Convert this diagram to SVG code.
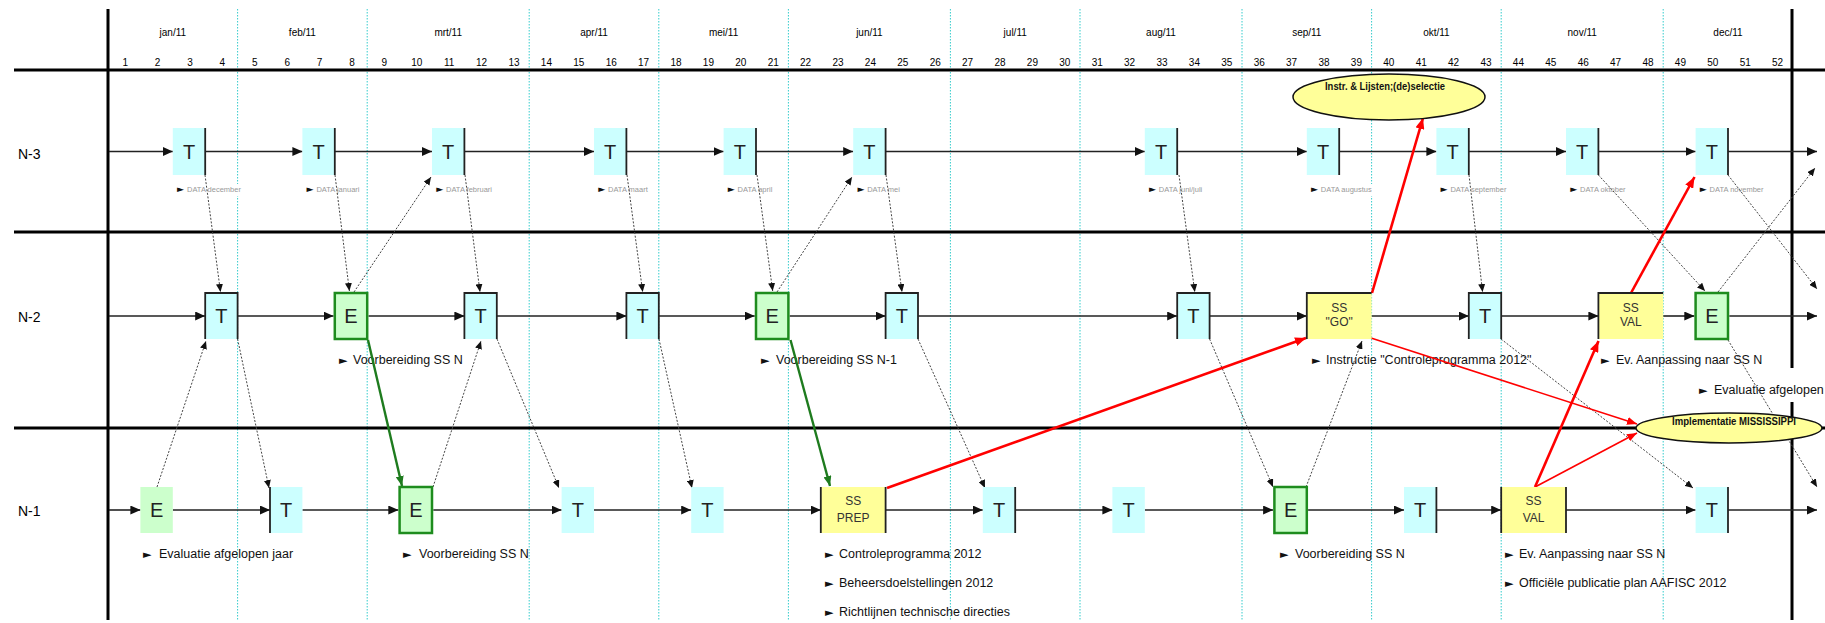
<svg xmlns="http://www.w3.org/2000/svg" width="1825" height="623" viewBox="0 0 1825 623">
<defs>
<style>
.bg{fill:#fff}
.grid{stroke:#000;stroke-width:3;fill:none}
.month{stroke:#33CCCC;stroke-width:1;stroke-dasharray:1.5 1.5;fill:none}
.hdr{font-family:"Liberation Sans",Arial,sans-serif;font-size:10px;fill:#000;text-anchor:middle}
.rowl{font-family:"Liberation Sans",Arial,sans-serif;font-size:14px;fill:#000}
.flow{stroke:#222;stroke-width:1.6;fill:none;marker-end:url(#ah)}
.dep{stroke:#444;stroke-width:1;stroke-dasharray:2 1.6;fill:none;marker-end:url(#ahs)}
.red{stroke:#FF0000;stroke-width:2.6;fill:none;marker-end:url(#ahr)}
.redt{stroke:#FF0000;stroke-width:1.6;fill:none;marker-end:url(#ahr2)}
.grn{stroke:#1E7B1E;stroke-width:2.4;fill:none;marker-end:url(#ahg)}
.t{fill:#CCFFFF}
.e{fill:#CCFFCC}
.eb{fill:#CCFFCC;stroke:#1E8C1E;stroke-width:2.5}
.ss{fill:#FFFF99}
.bd{stroke:#222;stroke-width:1.8;fill:none}
.lt{font-family:"Liberation Sans",Arial,sans-serif;font-size:20px;fill:#222;text-anchor:middle}
.sst{font-family:"Liberation Sans",Arial,sans-serif;font-size:12px;fill:#333;text-anchor:middle}
.lab{font-family:"Liberation Sans",Arial,sans-serif;font-size:12.5px;fill:#111}
.bul{font-family:"DejaVu Sans",sans-serif;font-size:11px;fill:#111}
.data{font-family:"Liberation Sans",Arial,sans-serif;font-size:7.5px;fill:#999}
.dbul{font-family:"DejaVu Sans",sans-serif;font-size:9px;fill:#111}
.ell{fill:#FFFF99;stroke:#111;stroke-width:1.5}
.elt{font-family:"Liberation Sans",Arial,sans-serif;font-size:10px;font-weight:bold;fill:#111;text-anchor:middle}
</style>
<marker id="ah" markerUnits="userSpaceOnUse" markerWidth="10" markerHeight="9" refX="10" refY="4.5" orient="auto"><path d="M0,0 L10,4.5 L0,9 z" fill="#111"/></marker>
<marker id="ahs" markerUnits="userSpaceOnUse" markerWidth="8" markerHeight="7" refX="8" refY="3.5" orient="auto"><path d="M0,0 L8,3.5 L0,7 z" fill="#111"/></marker>
<marker id="ahr" markerUnits="userSpaceOnUse" markerWidth="11" markerHeight="9" refX="11" refY="4.5" orient="auto"><path d="M0,0 L11,4.5 L0,9 z" fill="#FF0000"/></marker>
<marker id="ahr2" markerUnits="userSpaceOnUse" markerWidth="10" markerHeight="8" refX="10" refY="4" orient="auto"><path d="M0,0 L10,4 L0,8 z" fill="#FF0000"/></marker>
<marker id="ahg" markerUnits="userSpaceOnUse" markerWidth="10" markerHeight="8" refX="10" refY="4" orient="auto"><path d="M0,0 L10,4 L0,8 z" fill="#1E7B1E"/></marker>
</defs>
<rect class="bg" x="0" y="0" width="1825" height="623"/>

<g id="month-lines">
<path class="month" d="M237.6,9V620M367.2,9V620M529.2,9V620M658.8,9V620M788.4,9V620M950.4,9V620M1080,9V620M1242,9V620M1371.6,9V620M1501.2,9V620M1663.2,9V620"/>
</g>

<g id="grid">
<path class="grid" d="M14,70H1825M14,232H1825M14,428H1825M108,9V620M1792,9V620"/>
</g>

<g id="header">
<text class="hdr" x="172.8" y="36">jan/11</text>
<text class="hdr" x="302.4" y="36">feb/11</text>
<text class="hdr" x="448.2" y="36">mrt/11</text>
<text class="hdr" x="594" y="36">apr/11</text>
<text class="hdr" x="723.6" y="36">mei/11</text>
<text class="hdr" x="869.4" y="36">jun/11</text>
<text class="hdr" x="1015.2" y="36">jul/11</text>
<text class="hdr" x="1161" y="36">aug/11</text>
<text class="hdr" x="1306.8" y="36">sep/11</text>
<text class="hdr" x="1436.4" y="36">okt/11</text>
<text class="hdr" x="1582.2" y="36">nov/11</text>
<text class="hdr" x="1728" y="36">dec/11</text>
<g class="weeks">
<text class="hdr" x="125.2" y="66">1</text><text class="hdr" x="157.6" y="66">2</text><text class="hdr" x="190" y="66">3</text><text class="hdr" x="222.4" y="66">4</text>
<text class="hdr" x="254.8" y="66">5</text><text class="hdr" x="287.2" y="66">6</text><text class="hdr" x="319.6" y="66">7</text><text class="hdr" x="352" y="66">8</text>
<text class="hdr" x="384.4" y="66">9</text><text class="hdr" x="416.8" y="66">10</text><text class="hdr" x="449.2" y="66">11</text><text class="hdr" x="481.6" y="66">12</text>
<text class="hdr" x="514" y="66">13</text><text class="hdr" x="546.4" y="66">14</text><text class="hdr" x="578.8" y="66">15</text><text class="hdr" x="611.2" y="66">16</text>
<text class="hdr" x="643.6" y="66">17</text><text class="hdr" x="676" y="66">18</text><text class="hdr" x="708.4" y="66">19</text><text class="hdr" x="740.8" y="66">20</text>
<text class="hdr" x="773.2" y="66">21</text><text class="hdr" x="805.6" y="66">22</text><text class="hdr" x="838" y="66">23</text><text class="hdr" x="870.4" y="66">24</text>
<text class="hdr" x="902.8" y="66">25</text><text class="hdr" x="935.2" y="66">26</text><text class="hdr" x="967.6" y="66">27</text><text class="hdr" x="1000" y="66">28</text>
<text class="hdr" x="1032.4" y="66">29</text><text class="hdr" x="1064.8" y="66">30</text><text class="hdr" x="1097.2" y="66">31</text><text class="hdr" x="1129.6" y="66">32</text>
<text class="hdr" x="1162" y="66">33</text><text class="hdr" x="1194.4" y="66">34</text><text class="hdr" x="1226.8" y="66">35</text><text class="hdr" x="1259.2" y="66">36</text>
<text class="hdr" x="1291.6" y="66">37</text><text class="hdr" x="1324" y="66">38</text><text class="hdr" x="1356.4" y="66">39</text><text class="hdr" x="1388.8" y="66">40</text>
<text class="hdr" x="1421.2" y="66">41</text><text class="hdr" x="1453.6" y="66">42</text><text class="hdr" x="1486" y="66">43</text><text class="hdr" x="1518.4" y="66">44</text>
<text class="hdr" x="1550.8" y="66">45</text><text class="hdr" x="1583.2" y="66">46</text><text class="hdr" x="1615.6" y="66">47</text><text class="hdr" x="1648" y="66">48</text>
<text class="hdr" x="1680.4" y="66">49</text><text class="hdr" x="1712.8" y="66">50</text><text class="hdr" x="1745.2" y="66">51</text><text class="hdr" x="1777.6" y="66">52</text>
</g>
<text class="rowl" x="18" y="159">N-3</text>
<text class="rowl" x="18" y="322">N-2</text>
<text class="rowl" x="18" y="516">N-1</text>
</g>

<g id="data-labels">
<rect class="bg" x="176" y="184" width="68" height="12"/>
<rect class="bg" x="1310" y="184" width="66" height="12"/>
<rect class="bg" x="1440" y="184" width="70" height="12"/>
<text y="192"><tspan class="dbul" x="177">►</tspan><tspan class="data" x="187">DATA december</tspan></text>
<text y="192"><tspan class="dbul" x="306.6">►</tspan><tspan class="data" x="316.4">DATA januari</tspan></text>
<text y="192"><tspan class="dbul" x="436.2">►</tspan><tspan class="data" x="446">DATA februari</tspan></text>
<text y="192"><tspan class="dbul" x="598.2">►</tspan><tspan class="data" x="608">DATA maart</tspan></text>
<text y="192"><tspan class="dbul" x="727.8">►</tspan><tspan class="data" x="737.6">DATA april</tspan></text>
<text y="192"><tspan class="dbul" x="857.4">►</tspan><tspan class="data" x="867.2">DATA mei</tspan></text>
<text y="192"><tspan class="dbul" x="1149">►</tspan><tspan class="data" x="1158.8">DATA juni/juli</tspan></text>
<text y="192"><tspan class="dbul" x="1311">►</tspan><tspan class="data" x="1320.8">DATA augustus</tspan></text>
<text y="192"><tspan class="dbul" x="1440.6">►</tspan><tspan class="data" x="1450.4">DATA september</tspan></text>
<text y="192"><tspan class="dbul" x="1570.2">►</tspan><tspan class="data" x="1580">DATA oktober</tspan></text>
<text y="192"><tspan class="dbul" x="1699.8">►</tspan><tspan class="data" x="1709.6">DATA november</tspan></text>
</g>

<g id="labels">
<rect class="bg" x="1697" y="368" width="128" height="34"/>
<text y="364"><tspan class="bul" x="339">►</tspan><tspan class="lab" x="353">Voorbereiding SS N</tspan></text>
<text y="364"><tspan class="bul" x="761">►</tspan><tspan class="lab" x="776">Voorbereiding SS N-1</tspan></text>
<text y="364"><tspan class="bul" x="1312">►</tspan><tspan class="lab" x="1326">Instructie "Controleprogramma 2012"</tspan></text>
<text y="364"><tspan class="bul" x="1601">►</tspan><tspan class="lab" x="1616">Ev. Aanpassing naar SS N</tspan></text>
<text y="394"><tspan class="bul" x="1699">►</tspan><tspan class="lab" x="1714">Evaluatie afgelopen</tspan></text>
<text y="558"><tspan class="bul" x="143">►</tspan><tspan class="lab" x="159">Evaluatie afgelopen jaar</tspan></text>
<text y="558"><tspan class="bul" x="403">►</tspan><tspan class="lab" x="419">Voorbereiding SS N</tspan></text>
<text y="558"><tspan class="bul" x="825">►</tspan><tspan class="lab" x="839">Controleprogramma 2012</tspan></text>
<text y="587"><tspan class="bul" x="825">►</tspan><tspan class="lab" x="839">Beheersdoelstellingen 2012</tspan></text>
<text y="616"><tspan class="bul" x="825">►</tspan><tspan class="lab" x="839">Richtlijnen technische directies</tspan></text>
<text y="558"><tspan class="bul" x="1280">►</tspan><tspan class="lab" x="1295">Voorbereiding SS N</tspan></text>
<text y="558"><tspan class="bul" x="1505">►</tspan><tspan class="lab" x="1519">Ev. Aanpassing naar SS N</tspan></text>
<text y="587"><tspan class="bul" x="1505">►</tspan><tspan class="lab" x="1519">Officiële publicatie plan AAFISC 2012</tspan></text>
</g>

<g id="connectors">
<path class="flow" d="M109,151.5H172.8"/>
<path class="flow" d="M205.2,151.5H302.4"/>
<path class="flow" d="M334.8,151.5H432"/>
<path class="flow" d="M464.4,151.5H594"/>
<path class="flow" d="M626.4,151.5H723.6"/>
<path class="flow" d="M756,151.5H853.2"/>
<path class="flow" d="M885.6,151.5H1144.8"/>
<path class="flow" d="M1177.2,151.5H1306.8"/>
<path class="flow" d="M1339.2,151.5H1436.4"/>
<path class="flow" d="M1468.8,151.5H1566"/>
<path class="flow" d="M1598.4,151.5H1695.6"/>
<path class="flow" d="M1728,151.5H1817"/>
<path class="flow" d="M109,316H205.2"/>
<path class="flow" d="M237.6,316H333.5"/>
<path class="flow" d="M368.5,316H464.4"/>
<path class="flow" d="M496.8,316H626.4"/>
<path class="flow" d="M658.8,316H754.7"/>
<path class="flow" d="M789.7,316H885.6"/>
<path class="flow" d="M918,316H1177.2"/>
<path class="flow" d="M1209.6,316H1306.8"/>
<path class="flow" d="M1371.6,316H1468.8"/>
<path class="flow" d="M1501.2,316H1598.4"/>
<path class="flow" d="M1663.2,316H1694.3"/>
<path class="flow" d="M1729.3,316H1817"/>
<path class="flow" d="M109,510H140.4"/>
<path class="flow" d="M172.8,510H270"/>
<path class="flow" d="M302.4,510H398.3"/>
<path class="flow" d="M433.3,510H561.6"/>
<path class="flow" d="M594,510H691.2"/>
<path class="flow" d="M723.6,510H820.8"/>
<path class="flow" d="M885.6,510H982.8"/>
<path class="flow" d="M1015.2,510H1112.4"/>
<path class="flow" d="M1144.8,510H1273.1"/>
<path class="flow" d="M1308.1,510H1404"/>
<path class="flow" d="M1436.4,510H1501.2"/>
<path class="flow" d="M1566,510H1695.6"/>
<path class="flow" d="M1728,510H1817"/>
<path class="dep" d="M205,175L220.5,292"/>
<path class="dep" d="M335,175L349.4,291"/>
<path class="dep" d="M354,292L431,177"/>
<path class="dep" d="M465,175L480,292"/>
<path class="dep" d="M627,175L642.7,292"/>
<path class="dep" d="M757,175L772.7,291"/>
<path class="dep" d="M777,292L852,177"/>
<path class="dep" d="M886,175L902,292"/>
<path class="dep" d="M1179,175L1194.8,292"/>
<path class="dep" d="M1469,175L1482.6,292"/>
<path class="dep" d="M1598.4,175L1705,291"/>
<path class="dep" d="M1718,292L1815,168"/>
<path class="dep" d="M1728,175L1817,289"/>
<path class="dep" d="M157,487L206,341"/>
<path class="dep" d="M237.6,339L269,488"/>
<path class="dep" d="M433,487L481,341"/>
<path class="dep" d="M497,339L559,488"/>
<path class="dep" d="M659,339L692,488"/>
<path class="dep" d="M918,339L985,488"/>
<path class="dep" d="M1209.6,339L1273,487"/>
<path class="dep" d="M1306,487L1362,341"/>
<path class="dep" d="M1501,339L1693,488"/>
<path class="dep" d="M1728,340L1817,487"/>
<path class="grn" d="M368,340L402,486"/>
<path class="grn" d="M790.5,340L830,486"/>
<path class="red" d="M887,488L1306,338"/>
<path class="red" d="M1372,293L1423,118"/>
<path class="redt" d="M1371,338L1637,424"/>
<path class="red" d="M1535,487L1598.5,341"/>
<path class="redt" d="M1535,487L1637,433"/>
<path class="red" d="M1631,293L1694.5,177"/>
</g>

<g id="n3-t3"><rect class="t" x="172.8" y="128" width="32.4" height="47"/><path class="bd" d="M205.2,128V175"/><text class="lt" x="189" y="158.7">T</text></g>
<g id="n3-t7"><rect class="t" x="302.4" y="128" width="32.4" height="47"/><path class="bd" d="M334.8,128V175"/><text class="lt" x="318.6" y="158.7">T</text></g>
<g id="n3-t11"><rect class="t" x="432" y="128" width="32.4" height="47"/><path class="bd" d="M464.4,128V175"/><text class="lt" x="448.2" y="158.7">T</text></g>
<g id="n3-t16"><rect class="t" x="594" y="128" width="32.4" height="47"/><path class="bd" d="M626.4,128V175"/><text class="lt" x="610.2" y="158.7">T</text></g>
<g id="n3-t20"><rect class="t" x="723.6" y="128" width="32.4" height="47"/><path class="bd" d="M756,128V175"/><text class="lt" x="739.8" y="158.7">T</text></g>
<g id="n3-t24"><rect class="t" x="853.2" y="128" width="32.4" height="47"/><path class="bd" d="M885.6,128V175"/><text class="lt" x="869.4" y="158.7">T</text></g>
<g id="n3-t33"><rect class="t" x="1144.8" y="128" width="32.4" height="47"/><path class="bd" d="M1177.2,128V175"/><text class="lt" x="1161" y="158.7">T</text></g>
<g id="n3-t38"><rect class="t" x="1306.8" y="128" width="32.4" height="47"/><path class="bd" d="M1339.2,128V175"/><text class="lt" x="1323" y="158.7">T</text></g>
<g id="n3-t42"><rect class="t" x="1436.4" y="128" width="32.4" height="47"/><path class="bd" d="M1468.8,128V175"/><text class="lt" x="1452.6" y="158.7">T</text></g>
<g id="n3-t46"><rect class="t" x="1566" y="128" width="32.4" height="47"/><path class="bd" d="M1598.4,128V175"/><text class="lt" x="1582.2" y="158.7">T</text></g>
<g id="n3-t50"><rect class="t" x="1695.6" y="128" width="32.4" height="47"/><path class="bd" d="M1728,128V175"/><text class="lt" x="1711.8" y="158.7">T</text></g>

<g id="n2-t4"><rect class="t" x="205.2" y="293" width="32.4" height="46"/><path class="bd" d="M205.2,339V293H237.6V339"/><text class="lt" x="221.4" y="323">T</text></g>
<g id="n2-e8"><rect class="eb" x="334.8" y="293" width="32.4" height="46"/><text class="lt" x="351" y="323">E</text></g>
<g id="n2-t12"><rect class="t" x="464.4" y="293" width="32.4" height="46"/><path class="bd" d="M464.4,339V293H496.8V339"/><text class="lt" x="480.6" y="323">T</text></g>
<g id="n2-t17"><rect class="t" x="626.4" y="293" width="32.4" height="46"/><path class="bd" d="M626.4,339V293H658.8V339"/><text class="lt" x="642.6" y="323">T</text></g>
<g id="n2-e21"><rect class="eb" x="756" y="293" width="32.4" height="46"/><text class="lt" x="772.2" y="323">E</text></g>
<g id="n2-t25"><rect class="t" x="885.6" y="293" width="32.4" height="46"/><path class="bd" d="M885.6,339V293H918V339"/><text class="lt" x="901.8" y="323">T</text></g>
<g id="n2-t34"><rect class="t" x="1177.2" y="293" width="32.4" height="46"/><path class="bd" d="M1177.2,339V293H1209.6V339"/><text class="lt" x="1193.4" y="323">T</text></g>
<g id="n2-ss-go"><rect class="ss" x="1306.8" y="293" width="64.8" height="46"/><path class="bd" d="M1306.8,339V293H1371.6"/><text class="sst" x="1339.2" y="312">SS</text><text class="sst" x="1339.2" y="326">"GO"</text></g>
<g id="n2-t43"><rect class="t" x="1468.8" y="293" width="32.4" height="46"/><path class="bd" d="M1468.8,339V293H1501.2V339"/><text class="lt" x="1485" y="323">T</text></g>
<g id="n2-ss-val"><rect class="ss" x="1598.4" y="293" width="64.8" height="46"/><path class="bd" d="M1598.4,339V293H1663.2"/><text class="sst" x="1630.8" y="312">SS</text><text class="sst" x="1630.8" y="326">VAL</text></g>
<g id="n2-e50"><rect class="eb" x="1695.6" y="293" width="32.4" height="46"/><text class="lt" x="1711.8" y="323">E</text></g>

<g id="n1-e2"><rect class="e" x="140.4" y="487" width="32.4" height="46"/><text class="lt" x="156.6" y="517">E</text></g>
<g id="n1-t6"><rect class="t" x="270" y="487" width="32.4" height="46"/><path class="bd" d="M270,487V533"/><text class="lt" x="286.2" y="517">T</text></g>
<g id="n1-e10"><rect class="eb" x="399.6" y="487" width="32.4" height="46"/><text class="lt" x="415.8" y="517">E</text></g>
<g id="n1-t15"><rect class="t" x="561.6" y="487" width="32.4" height="46"/><text class="lt" x="577.8" y="517">T</text></g>
<g id="n1-t19"><rect class="t" x="691.2" y="487" width="32.4" height="46"/><text class="lt" x="707.4" y="517">T</text></g>
<g id="n1-ss-prep"><rect class="ss" x="820.8" y="487" width="64.8" height="46"/><path class="bd" d="M820.8,487V533M885.6,487V533"/><text class="sst" x="853.2" y="505">SS</text><text class="sst" x="853.2" y="522">PREP</text></g>
<g id="n1-t28"><rect class="t" x="982.8" y="487" width="32.4" height="46"/><path class="bd" d="M1015.2,487V533"/><text class="lt" x="999" y="517">T</text></g>
<g id="n1-t32"><rect class="t" x="1112.4" y="487" width="32.4" height="46"/><text class="lt" x="1128.6" y="517">T</text></g>
<g id="n1-e37"><rect class="eb" x="1274.4" y="487" width="32.4" height="46"/><text class="lt" x="1290.6" y="517">E</text></g>
<g id="n1-t41"><rect class="t" x="1404" y="487" width="32.4" height="46"/><path class="bd" d="M1436.4,487V533"/><text class="lt" x="1420.2" y="517">T</text></g>
<g id="n1-ss-val"><rect class="ss" x="1501.2" y="487" width="64.8" height="46"/><path class="bd" d="M1501.2,487V533M1566,487V533"/><text class="sst" x="1533.6" y="505">SS</text><text class="sst" x="1533.6" y="522">VAL</text></g>
<g id="n1-t50"><rect class="t" x="1695.6" y="487" width="32.4" height="46"/><path class="bd" d="M1728,487V533"/><text class="lt" x="1711.8" y="517">T</text></g>

<g id="ell-instr"><ellipse class="ell" cx="1389" cy="97" rx="96" ry="23"/><text class="elt" x="1385" y="90" textLength="120" lengthAdjust="spacingAndGlyphs">Instr. &amp; Lijsten;(de)selectie</text></g>
<g id="ell-mississippi"><ellipse class="ell" cx="1729" cy="428" rx="93" ry="15"/><text class="elt" x="1734" y="425" textLength="124" lengthAdjust="spacingAndGlyphs">Implementatie MISSISSIPPI</text></g>
</svg>
